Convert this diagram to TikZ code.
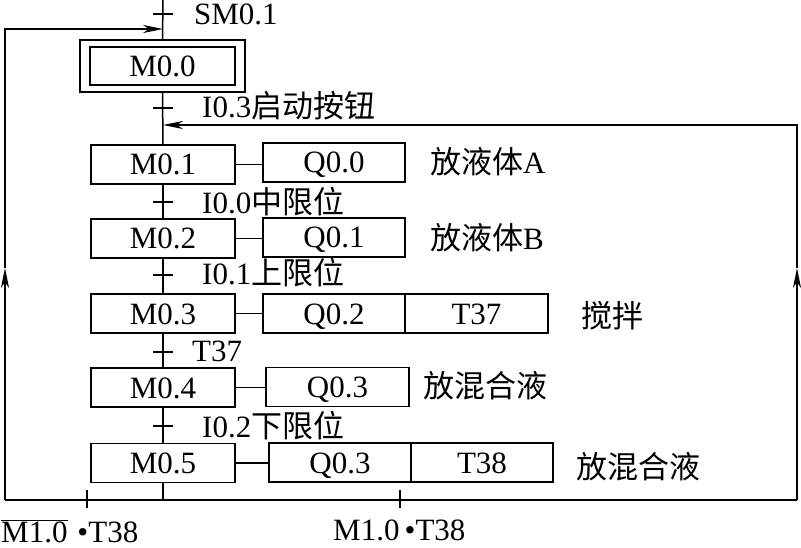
\documentclass[tikz,border=0pt]{standalone}
\usepackage{fontspec}
\setmainfont{Liberation Serif}
\newfontfamily\cjk{Noto Sans CJK SC}
\usetikzlibrary{arrows.meta}
\tikzset{
  ln/.style={line width=1.5pt},
  mbox/.style={draw, line width=1.5pt, minimum width=144pt, minimum height=39pt, inner sep=0pt, text height=21pt, text depth=0pt},
  abox/.style={draw, line width=1.5pt, minimum width=142pt, minimum height=39pt, inner sep=0pt, text height=21pt, text depth=0pt},
  lbl/.style={anchor=base west, inner sep=0pt},
  arr/.style={ln, -{Stealth[length=20pt,width=8pt,inset=6pt]}},
}
\begin{document}
\begin{tikzpicture}[x=1pt,y=-1pt,font=\fontsize{31}{32}\selectfont]
\useasboundingbox (0,0) rectangle (801,548);
% step boxes
\node[draw, line width=1.5pt, minimum width=165pt, minimum height=52pt, inner sep=0pt] (m00o) at (162.5,66) {};
\node[mbox, minimum width=145pt, minimum height=38pt] (m00) at (162.5,66) {M0.0};
\node[mbox] (m01) at (163,164.5) {M0.1};
\node[mbox] (m02) at (163,238.5) {M0.2};
\node[mbox] (m03) at (163,313.5) {M0.3};
\node[mbox] (m04) at (163,387.5) {M0.4};
\node[mbox] (m05) at (163,463) {M0.5};
% action boxes
\node[abox] (q00) at (334,162.5) {Q0.0};
\node[abox] (q01) at (334,237.5) {Q0.1};
\node[abox] (q02) at (334,313.5) {Q0.2};
\node[abox, minimum width=143pt] (t37) at (476.5,313.5) {T37};
\node[abox, minimum width=143pt] (q03a) at (337.5,387) {Q0.3};
\node[abox] (q03b) at (340,462.5) {Q0.3};
\node[abox] (t38) at (482,462.5) {T38};
% action texts
\node[anchor=west, inner sep=0pt] (ta) at (430,162) {{\cjk 放液体}A};
\node[anchor=west, inner sep=0pt] (tb) at (430,238) {{\cjk 放液体}B};
\node[anchor=west, inner sep=0pt] (tc) at (581,316) {\cjk 搅拌};
\node[anchor=west, inner sep=0pt] (td) at (423,386) {\cjk 放混合液};
\node[anchor=west, inner sep=0pt] (te) at (576,467) {\cjk 放混合液};
% connectors step-action
\draw[ln] (m01.east) -- (m01.east -| q00.west);
\draw[ln] (m02.east) -- (m02.east -| q01.west);
\draw[ln] (m03.east) -- (m03.east -| q02.west);
\draw[ln] (m04.east) -- (m04.east -| q03a.west);
\draw[ln] (m05.east) -- (m05.east -| q03b.west);
% main line
\coordinate (top) at (163,0);
\coordinate (bm) at (163,500);
\coordinate (bl) at (5,500);
\coordinate (br) at (797,500);
\coordinate (la) at (5,268);
\coordinate (ra) at (797,268);
\coordinate (lt) at (5,29);
\coordinate (rt) at (797,125);
\coordinate (lm) at (163,29);
\coordinate (rm) at (163,125);
\draw[ln] (top) -- (m00o.north);
\draw[ln] (m00o.south) -- (m01.north);
\draw[ln] (m01.south) -- (m02.north);
\draw[ln] (m02.south) -- (m03.north);
\draw[ln] (m03.south) -- (m04.north);
\draw[ln] (m04.south) -- (m05.north);
\draw[ln] (m05.south) -- (bm);
\draw[ln] (bl) -- (br);
% loops
\draw[arr] (bl) -- (la);
\draw[arr] (la) -- (lt) -- (lm);
\draw[arr] (br) -- (ra);
\draw[arr] (ra) -- (rt) -- (rm);
% transition ticks
\foreach \n/\yy in {a/14, b/108, c/202, d/275, e/352, f/426} {
  \coordinate (tk\n) at (163,\yy);
  \draw[ln] ([xshift=-10pt]tk\n) -- ([xshift=10pt]tk\n);
}
\coordinate (bt1) at (87,490);
\coordinate (bt2) at (87,508);
\coordinate (bt3) at (400,490);
\coordinate (bt4) at (400,508);
\draw[ln] (bt1) -- (bt2);
\draw[ln] (bt3) -- (bt4);
% transition labels
\node[lbl] (la1) at (194,25) {SM0.1};
\node[lbl] (la2) at (202,118) {I0.3{\cjk 启动按钮}};
\node[lbl] (la3) at (202,214) {I0.0{\cjk 中限位}};
\node[lbl] (la4) at (202,284) {I0.1{\cjk 上限位}};
\node[lbl] (la5) at (192,361) {T37};
\node[lbl] (la6) at (202,437) {I0.2{\cjk 下限位}};
\node[lbl] (lb1) at (1,542) {$\overline{\hbox{M1.0}}$\hspace{10pt}\textbullet T38};
\node[lbl] (lb2) at (333,540) {M1.0\,\textbullet T38};
\end{tikzpicture}
\end{document}
